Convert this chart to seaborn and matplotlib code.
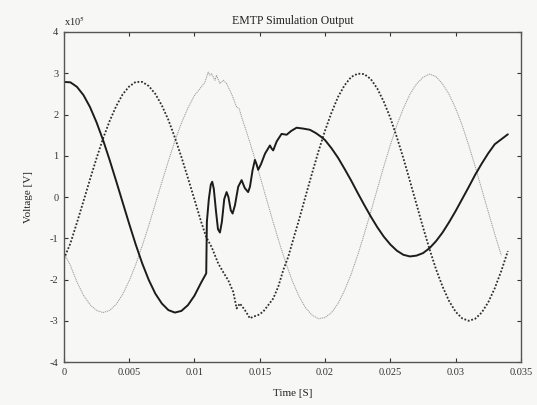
import pandas as pd
import numpy as np
import seaborn as sns
import matplotlib
matplotlib.use("Agg")
import matplotlib.pyplot as plt

# ---------------------------------------------------------------------------
# Data (voltage in units of 1e5 V)
# ---------------------------------------------------------------------------

# Phase A (solid, faulted phase)
t_a = [0.0, 0.0005, 0.001, 0.0015, 0.002, 0.0025, 0.003, 0.0035, 0.004, 0.0045,
       0.005, 0.0055, 0.006, 0.0065, 0.007, 0.0075, 0.008, 0.0085, 0.009, 0.0095,
       0.010, 0.0105, 0.0109,
       0.01095, 0.0111, 0.01125, 0.01136, 0.01148, 0.01165, 0.0118, 0.01195, 0.0121,
       0.01228, 0.01246, 0.0126, 0.01278, 0.01292, 0.0131, 0.01335, 0.01361, 0.01385,
       0.01411, 0.01425, 0.01445, 0.01463, 0.01475, 0.01488, 0.0151, 0.0154, 0.01578,
       0.0159, 0.01603, 0.0163, 0.01667, 0.01706, 0.0174, 0.01782, 0.0183, 0.01884,
       0.0193, 0.01974,
       0.0200, 0.0205, 0.0210, 0.0215, 0.0220, 0.0225, 0.0230, 0.0235, 0.0240, 0.0245,
       0.0250, 0.0255, 0.0260, 0.0265, 0.0270, 0.0275, 0.0280, 0.0285, 0.0290, 0.0295,
       0.0300, 0.0305, 0.0310, 0.0315, 0.0320, 0.0325, 0.0330, 0.0335, 0.0340]
v_a = [2.79, 2.78, 2.67, 2.47, 2.18, 1.81, 1.38, 0.90, 0.39, -0.13,
       -0.65, -1.15, -1.61, -2.01, -2.34, -2.58, -2.74, -2.80, -2.76, -2.62,
       -2.39, -2.08, -1.85,
       -0.60, -0.05, 0.30, 0.37, 0.20, -0.35, -0.78, -0.86, -0.60,
       -0.05, 0.12, 0.00, -0.32, -0.40, -0.20, 0.25, 0.41, 0.22,
       0.12, 0.25, 0.65, 0.90, 0.80, 0.66, 0.80, 1.05, 1.25,
       1.18, 1.13, 1.35, 1.53, 1.51, 1.60, 1.68, 1.66, 1.63,
       1.55, 1.45,
       1.38, 1.18, 0.95, 0.68, 0.40, 0.10, -0.19, -0.47, -0.73, -0.96,
       -1.15, -1.30, -1.40, -1.44, -1.42, -1.36, -1.24, -1.07, -0.86, -0.61,
       -0.34, -0.05, 0.24, 0.54, 0.81, 1.06, 1.28, 1.40, 1.52]

# Phase B (dark dotted)
t_b = [0.0, 0.0005, 0.001, 0.0015, 0.002, 0.0025, 0.003, 0.0035, 0.004, 0.0045,
       0.005, 0.0055, 0.006, 0.0065, 0.007, 0.0075, 0.008, 0.0085, 0.009, 0.0095,
       0.010, 0.0105,
       0.0109, 0.01131, 0.01182, 0.0122, 0.01259, 0.01297, 0.01323, 0.01348, 0.01386,
       0.01425, 0.0145, 0.01488, 0.01526, 0.01565, 0.01603, 0.01641, 0.0168, 0.01718,
       0.01769,
       0.0180, 0.0185, 0.0190, 0.0195, 0.0200, 0.0205, 0.0210, 0.0215, 0.0220, 0.0225,
       0.0230, 0.0235, 0.0240, 0.0245, 0.0250, 0.0255, 0.0260, 0.0265, 0.0270, 0.0275,
       0.0280, 0.0285, 0.0290, 0.0295, 0.0300, 0.0305, 0.0310, 0.0315, 0.0320, 0.0325,
       0.0330, 0.0335, 0.0340]
v_b = [-1.50, -1.12, -0.62, -0.10, 0.43, 0.94, 1.42, 1.84, 2.20, 2.49,
       2.68, 2.79, 2.79, 2.69, 2.50, 2.22, 1.87, 1.44, 0.97, 0.46,
       -0.06, -0.59,
       -0.97, -1.21, -1.61, -1.82, -2.02, -2.30, -2.70, -2.58, -2.74,
       -2.94, -2.90, -2.86, -2.78, -2.62, -2.46, -2.18, -1.77, -1.45,
       -0.89,
       -0.56, 0.01, 0.57, 1.11, 1.61, 2.05, 2.43, 2.71, 2.91, 2.99,
       2.98, 2.86, 2.63, 2.31, 1.92, 1.45, 0.94, 0.39, -0.17, -0.73,
       -1.26, -1.75, -2.17, -2.52, -2.78, -2.94, -3.00, -2.95, -2.80, -2.55,
       -2.21, -1.79, -1.31]

# Phase C (light dotted)
t_c = [0.0, 0.0005, 0.001, 0.0015, 0.002, 0.0025, 0.003, 0.0035, 0.004, 0.0045,
       0.005, 0.0055, 0.006, 0.0065, 0.007, 0.0075, 0.008, 0.0085, 0.009, 0.0095,
       0.010, 0.0105,
       0.0108, 0.01105, 0.01118, 0.01131, 0.01157, 0.01169, 0.01195, 0.0122, 0.01246,
       0.01284, 0.01323, 0.01343, 0.01361, 0.01412,
       0.0145, 0.0150, 0.0155, 0.0160, 0.0165, 0.0170, 0.0175, 0.0180, 0.0185, 0.0190,
       0.0195, 0.0200, 0.0205, 0.0210, 0.0215, 0.0220, 0.0225, 0.0230, 0.0235, 0.0240,
       0.0245, 0.0250, 0.0255, 0.0260, 0.0265, 0.0270, 0.0275, 0.0280, 0.0285, 0.0290,
       0.0295, 0.0300, 0.0305, 0.0310, 0.0315, 0.0320, 0.0325, 0.0330, 0.0335]
v_c = [-1.35, -1.66, -2.06, -2.38, -2.61, -2.75, -2.80, -2.75, -2.60, -2.36,
       -2.03, -1.64, -1.18, -0.69, -0.17, 0.36, 0.87, 1.36, 1.79, 2.16,
       2.46, 2.66,
       2.78, 3.03, 2.95, 2.99, 2.83, 2.95, 2.75, 2.83, 2.75,
       2.50, 2.18, 2.14, 1.94, 1.45,
       1.06, 0.52, -0.03, -0.58, -1.11, -1.60, -2.04, -2.40, -2.68, -2.86,
       -2.95, -2.92, -2.80, -2.58, -2.26, -1.87, -1.41, -0.90, -0.36, 0.19,
       0.74, 1.26, 1.74, 2.15, 2.49, 2.74, 2.90, 2.98, 2.92, 2.74,
       2.49, 2.15, 1.74, 1.26, 0.74, 0.19, -0.36, -0.90, -1.41]

x_ticks = [0, 0.005, 0.01, 0.015, 0.02, 0.025, 0.03, 0.035]
x_tick_labels = ["0", "0.005", "0.01", "0.015", "0.02", "0.025", "0.03", "0.035"]
y_ticks = [-4, -3, -2, -1, 0, 1, 2, 3, 4]

# ---------------------------------------------------------------------------
# Style
# ---------------------------------------------------------------------------
sns.set_style("ticks")
plt.rcParams['font.family'] = ['Liberation Serif', 'DejaVu Serif']
plt.rcParams['mathtext.fontset'] = 'stix'

df_a = pd.DataFrame({"t": t_a, "v": v_a})
df_b = pd.DataFrame({"t": t_b, "v": v_b})
df_c = pd.DataFrame({"t": t_c, "v": v_c})

fig = plt.figure(figsize=(5.37, 4.05), dpi=100)
fig.patch.set_facecolor('#f7f7f5')
ax = fig.add_axes([0.119, 0.106, 0.851, 0.815])
ax.set_facecolor('#f7f7f5')

sns.lineplot(data=df_c, x="t", y="v", sort=False, estimator=None, ax=ax,
             color='#9a9a9a', linewidth=0.7, linestyle=(0, (1.2, 0.8)))
sns.lineplot(data=df_b, x="t", y="v", sort=False, estimator=None, ax=ax,
             color='#2e2e2e', linewidth=1.3, linestyle=(0, (1, 1)))
sns.lineplot(data=df_a, x="t", y="v", sort=False, estimator=None, ax=ax,
             color='#1c1c1c', linewidth=1.4)

ax.set_xlim(0, 0.035)
ax.set_ylim(-4, 4)
ax.set_xticks(x_ticks)
ax.set_xticklabels(x_tick_labels)
ax.set_yticks(y_ticks)
ax.set_yticklabels([str(v) for v in y_ticks])
ax.tick_params(direction='in', length=3, width=0.8, labelsize=7.5,
               top=True, right=True, colors='#333333', pad=4)
for side in ax.spines.values():
    side.set_linewidth(1.0)
    side.set_color('#555555')

ax.set_title('EMTP Simulation Output', fontsize=8.5, pad=6, color='#222222')
ax.text(0.0, 1.012, r'x10$^5$', transform=ax.transAxes, fontsize=7.5,
        ha='left', va='bottom', color='#222222')
ax.set_xlabel('Time [S]', fontsize=8, labelpad=9, color='#222222')
ax.set_ylabel('Voltage [V]', fontsize=8, labelpad=12, color='#222222')

fig.savefig('out.png', dpi=100, facecolor=fig.get_facecolor())
